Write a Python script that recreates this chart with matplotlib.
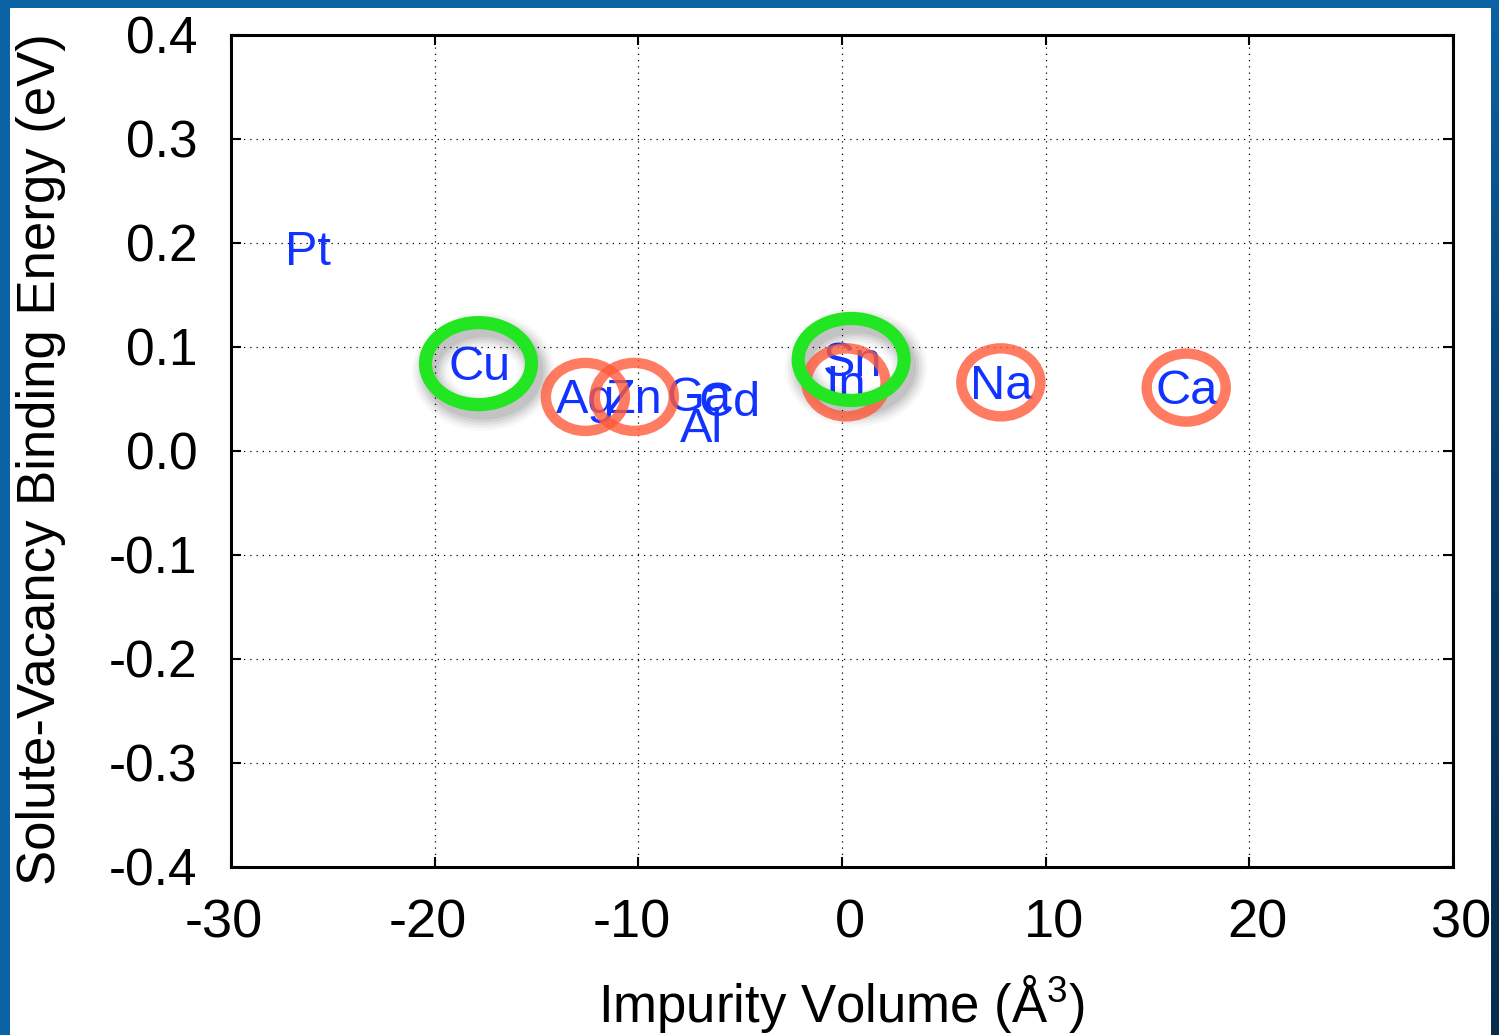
import numpy as np
import matplotlib
matplotlib.use("Agg")
import matplotlib.pyplot as plt
from matplotlib.patches import Ellipse, Rectangle
from matplotlib.colors import LinearSegmentedColormap
from matplotlib.transforms import ScaledTranslation

plt.rcParams['font.family'] = ['Liberation Sans', 'DejaVu Sans']
plt.rcParams['mathtext.fontset'] = 'custom'
plt.rcParams['mathtext.rm'] = 'Liberation Sans'
plt.rcParams['mathtext.it'] = 'Liberation Sans'

# solute labels placed at (impurity volume, binding energy)
elements = ['Pt', 'Cu', 'Ag', 'Zn', 'Ga', 'Cd', 'Al', 'Sn', 'In', 'Na', 'Ca']
volumes = [-26.2, -17.8, -12.6, -10.2, -7.0, -5.5, -6.9, 0.5, 0.2, 7.8, 16.9]
energies = [0.195, 0.084, 0.052, 0.052, 0.054, 0.050, 0.025, 0.088, 0.066, 0.066, 0.061]

# highlighted solutes
red_marked = ['Ag', 'Zn', 'In', 'Na', 'Ca']
green_marked = ['Cu', 'Sn']

xticks = [-30, -20, -10, 0, 10, 20, 30]
yticks = [-0.4, -0.3, -0.2, -0.1, 0.0, 0.1, 0.2, 0.3, 0.4]

W, H = 1499, 1035
fig = plt.figure(figsize=(W / 100, H / 100), dpi=100)
fig.patch.set_facecolor('#0b62a5')
fig.patches.append(Rectangle((10 / W, 0), (1491 - 10) / W, (H - 8) / H,
                             transform=fig.transFigure, facecolor='white',
                             edgecolor='none', zorder=-10))
# darker right border gradient
gax = fig.add_axes([1491 / W, 0, 8 / W, 1])
grad = np.linspace(0, 1, 256).reshape(-1, 1)
cmap = LinearSegmentedColormap.from_list('b', ['#0b62a5', '#0a3a66', '#082c4c'])
gax.imshow(grad, aspect='auto', cmap=cmap)
gax.axis('off')

ax = fig.add_axes([231 / W, 168 / H, 1222 / W, 832 / H])
ax.set_facecolor('white')
ax.set_xlim(-30, 30)
ax.set_ylim(-0.4, 0.4)
ax.set_xticks(xticks)
ax.set_yticks(yticks)
ax.set_xticklabels([str(t) for t in xticks])
ax.set_yticklabels(['%.1f' % t for t in yticks])
ax.tick_params(direction='in', length=7, width=1.5, top=True, right=True,
               colors='black')
ax.tick_params(axis='y', pad=24, labelsize=37)
ax.tick_params(axis='x', pad=23, labelsize=39)
ax.grid(True, color='black', linestyle=(0, (1, 4)), linewidth=0.9)
for s in ax.spines.values():
    s.set_linewidth(2.2)

# gnuplot-like placement: digits centred on the tick, minus hanging left
for t, lab in zip(xticks, ax.get_xticklabels()):
    off = -7 if t < 0 else 8
    lab.set_transform(lab.get_transform() + ScaledTranslation(off / 100, 0, fig.dpi_scale_trans))

ax.set_xlabel('Impurity Volume (Å$^3$)', fontsize=38)
ax.set_ylabel('Solute-Vacancy Binding Energy (eV)', fontsize=38)
ax.xaxis.set_label_coords(0.5, -0.127)
ax.yaxis.set_label_coords(-0.135, 0.49)

shift_down = ScaledTranslation(0, -4 / 100, fig.dpi_scale_trans)
for name, x, y in zip(elements, volumes, energies):
    ax.text(x, y, name, color='#1233ff', fontsize=35, ha='center', va='center',
            zorder=3, transform=ax.transData + shift_down)

dx = 60.0 / 1222
dy = 0.8 / 832

for name, x, y in zip(elements, volumes, energies):
    if name in red_marked:
        e = Ellipse((x, y), 79 * dx, 68 * dy, fill=False, edgecolor='#ff5a3a',
                    linewidth=7.5, alpha=0.8, zorder=4)
        ax.add_patch(e)
    if name in green_marked:
        for lw, a in [(26, 0.03), (22, 0.04), (18, 0.05), (14, 0.06), (10, 0.07)]:
            sh = Ellipse((x + 4 * dx, y - 8 * dy), 106 * dx, 82 * dy, fill=False,
                         edgecolor='black', linewidth=lw, alpha=a, zorder=4)
            ax.add_patch(sh)
        e = Ellipse((x - 1 * dx, y), 106 * dx, 82 * dy, fill=False, edgecolor='#22e622',
                    linewidth=9.5, zorder=5)
        ax.add_patch(e)

fig.savefig('out.png', dpi=100, facecolor=fig.get_facecolor())
